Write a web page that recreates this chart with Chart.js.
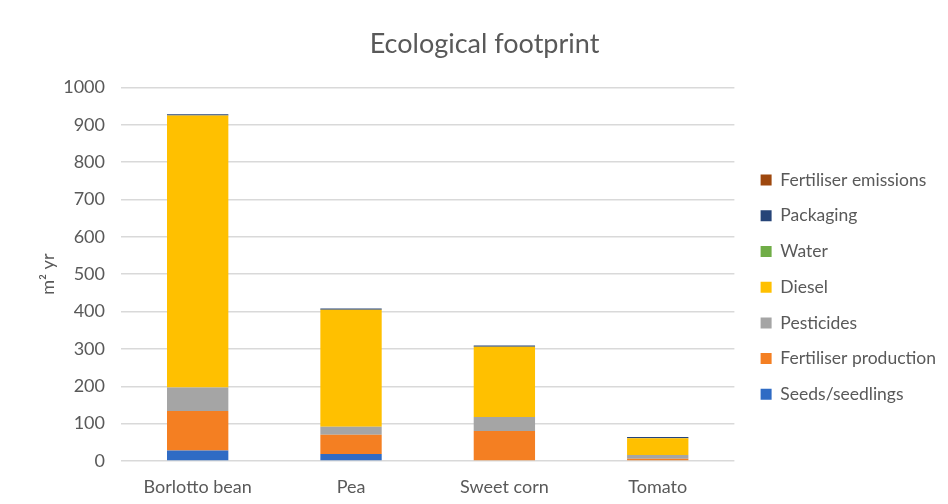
<!DOCTYPE html>
<html>
<head>
<meta charset="utf-8">
<script src="https://cdn.jsdelivr.net/npm/chart.js@4.4.1/dist/chart.umd.min.js"></script>
<style>
  html, body { margin: 0; padding: 0; background: #ffffff; }
  #wrap { width: 948px; height: 504px; position: relative; }
</style>
</head>
<body>
<div id="wrap"><canvas id="c" width="948" height="504"></canvas></div>
<script>
// Crops compared
const categories = ['Borlotto bean', 'Pea', 'Sweet corn', 'Tomato'];

// Ecological footprint contributions, m² yr
const seedsSeedlings       = [28, 19, 0, 0];
const fertiliserProduction = [106, 51, 80, 6];
const pesticides           = [63, 22, 38, 10];
const diesel               = [728, 313, 188, 45];
const water                = [0, 0, 0, 0];
const packaging            = [3, 3, 3, 3];
const fertiliserEmissions  = [0, 0, 0, 0];

const yTicks = [0, 100, 200, 300, 400, 500, 600, 700, 800, 900, 1000];

const FONT = "Lato, 'Open Sans', sans-serif";
const TEXT = '#595959';

const datasets = [
  { label: 'Seeds/seedlings',       data: seedsSeedlings,       backgroundColor: '#2f6bc4' },
  { label: 'Fertiliser production', data: fertiliserProduction, backgroundColor: '#f47f22' },
  { label: 'Pesticides',            data: pesticides,           backgroundColor: '#a5a5a5' },
  { label: 'Diesel',                data: diesel,               backgroundColor: '#ffc000' },
  { label: 'Water',                 data: water,                backgroundColor: '#70ad47' },
  { label: 'Packaging',             data: packaging,            backgroundColor: '#264478' },
  { label: 'Fertiliser emissions',  data: fertiliserEmissions,  backgroundColor: '#9e480e' }
].map(d => Object.assign(d, { barPercentage: 0.4, categoryPercentage: 1.0, borderWidth: 0 }));

// Nudge the legend a few pixels right of where the layout puts it
const legendNudge = {
  id: 'legendNudge',
  afterLayout(chart) {
    const lg = chart.legend;
    if (lg) { lg.left += 8; lg.right += 8; }
  }
};

new Chart(document.getElementById('c'), {
  type: 'bar',
  data: { labels: categories, datasets },
  plugins: [legendNudge],
  options: {
    responsive: false,
    animation: false,
    layout: { padding: { left: 31, right: 10, top: 14, bottom: 6 } },
    plugins: {
      title: {
        display: true,
        text: 'Ecological footprint',
        color: TEXT,
        font: { family: FONT, size: 27, weight: 'normal' },
        padding: { top: 14, bottom: 27 }
      },
      legend: {
        position: 'right',
        fullSize: false,
        reverse: true,
        align: 'center',
        title: { display: true, text: ' ', font: { size: 10 }, padding: { top: 0, bottom: 14 } },
        labels: {
          boxWidth: 11,
          boxHeight: 11,
          padding: 18.2,
          color: TEXT,
          font: { family: FONT, size: 17.5 }
        }
      },
      tooltip: { enabled: false }
    },
    scales: {
      x: {
        stacked: true,
        grid: { display: false, drawTicks: false },
        border: { display: false },
        ticks: { color: TEXT, font: { family: FONT, size: 18 }, padding: 15 },
        afterFit: scale => { scale.height = 37; }
      },
      y: {
        stacked: true,
        min: 0,
        max: 1000,
        afterBuildTicks: axis => { axis.ticks = yTicks.map(v => ({ value: v })); },
        afterFit: scale => { scale.width = 90; },
        grid: { color: '#d9d9d9', lineWidth: 1.5, drawTicks: false },
        border: { display: false },
        ticks: {
          color: TEXT,
          font: { family: FONT, size: 18 },
          padding: 16,
          callback: v => String(v)
        },
        title: {
          display: true,
          text: 'm² yr',
          color: TEXT,
          font: { family: FONT, size: 18 },
          padding: { top: 6, bottom: 9 }
        }
      }
    }
  }
});
</script>
</body>
</html>
